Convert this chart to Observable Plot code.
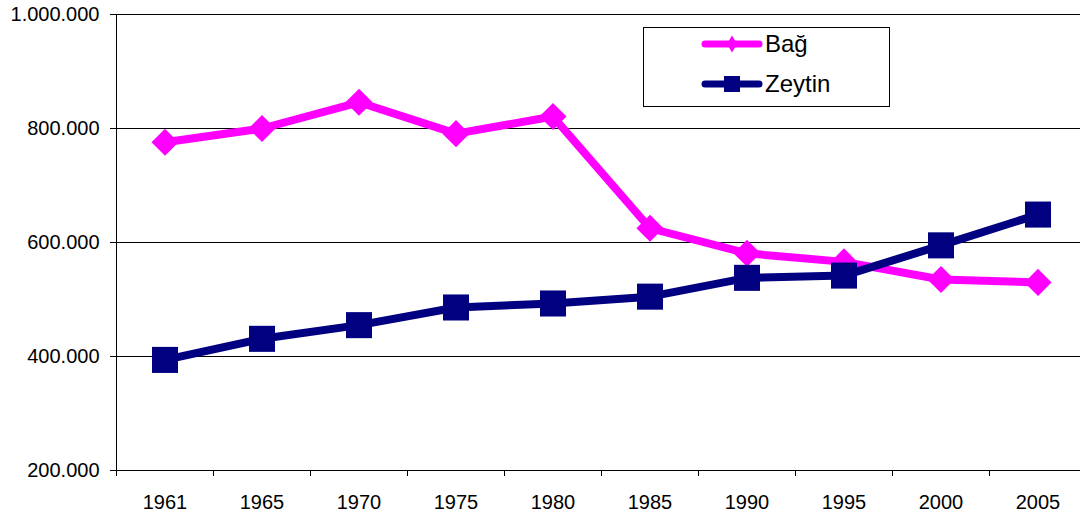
<!DOCTYPE html>
<html>
<head>
<meta charset="utf-8">
<script src="https://cdn.jsdelivr.net/npm/d3@7"></script>
<script src="https://cdn.jsdelivr.net/npm/@observablehq/plot@0.6"></script>
<style>
  html, body { margin: 0; padding: 0; background: #fff; overflow: hidden; }
  #wrap { position: relative; width: 1080px; height: 519px; overflow: hidden; }
  #legend { position: absolute; left: 643px; top: 27px; }
</style>
</head>
<body>
<div id="wrap"></div>
<script>
const years = ["1961","1965","1970","1975","1980","1985","1990","1995","2000","2005"];
const bag = [776000, 800000, 846000, 791000, 821000, 625000, 581000, 566000, 535000, 530000];
const zeytin = [394000, 431000, 455000, 486000, 493000, 505000, 538000, 542000, 595000, 649000];
const yTicks = [200000, 400000, 600000, 800000, 1000000];
const seriesNames = ["Bağ", "Zeytin"];
const colors = ["#FF00FF", "#000080"];

const font = "'Liberation Sans', Arial, sans-serif";
const fmt = d3.formatLocale({decimal: ",", thousands: ".", grouping: [3], currency: ["", ""]}).format(",");

const rows = [];
years.forEach((y, i) => {
  rows.push({pos: i + 0.5, year: y, series: seriesNames[0], value: bag[i]});
  rows.push({pos: i + 0.5, year: y, series: seriesNames[1], value: zeytin[i]});
});
const bagRows = rows.filter(d => d.series === seriesNames[0]);
const zRows = rows.filter(d => d.series === seriesNames[1]);

const chart = Plot.plot({
  width: 1080,
  height: 519,
  marginTop: 14,
  marginBottom: 49,
  marginLeft: 116,
  marginRight: -6,
  style: {fontFamily: font, fontSize: "20px", color: "#000", background: "#fff", overflow: "visible"},
  x: {type: "linear", domain: [0, years.length]},
  y: {domain: [200000, 1000000]},
  marks: [
    Plot.gridY(yTicks, {stroke: "#000", strokeOpacity: 1, strokeWidth: 1}),
    Plot.axisY({ticks: yTicks, tickFormat: fmt, tickSize: 6, tickPadding: 11, label: null, fontSize: 20, stroke: "#000"}),
    Plot.axisX({ticks: d3.range(0, years.length + 1), tickFormat: () => "", tickSize: 6, label: null, stroke: "#000"}),
    Plot.axisX({ticks: years.map((_, i) => i + 0.5), tickFormat: v => years[Math.round(v - 0.5)], tickSize: 0, tickPadding: 24, label: null, fontSize: 20}),
    Plot.ruleY([200000], {stroke: "#000"}),
    Plot.ruleX([0], {stroke: "#000"}),
    Plot.line(bagRows, {x: "pos", y: "value", stroke: colors[0], strokeWidth: 8, strokeLinejoin: "round"}),
    Plot.dot(bagRows, {x: "pos", y: "value", symbol: "diamond2", r: 12.2, fill: colors[0], stroke: "none"}),
    Plot.line(zRows, {x: "pos", y: "value", stroke: colors[1], strokeWidth: 8, strokeLinejoin: "round"}),
    Plot.dot(zRows, {x: "pos", y: "value", symbol: "square", r: 14.7, fill: colors[1], stroke: "none"})
  ]
});

const wrap = document.getElementById("wrap");
wrap.appendChild(chart);

// Legend (boxed, inside the plot area)
const leg = d3.select(wrap).append("svg")
  .attr("id", "legend")
  .attr("width", 248).attr("height", 81)
  .style("font-family", font);
leg.append("rect").attr("x", 0.5).attr("y", 0.5).attr("width", 246).attr("height", 79)
  .attr("fill", "#fff").attr("stroke", "#000").attr("stroke-width", 1);
const items = leg.selectAll("g.item").data(seriesNames).join("g")
  .attr("class", "item")
  .attr("transform", (d, i) => `translate(0, ${17 + i * 40})`);
items.append("line").attr("x1", 62).attr("x2", 116).attr("y1", 0).attr("y2", 0)
  .attr("stroke", (d, i) => colors[i]).attr("stroke-width", 7).attr("stroke-linecap", "round");
items.filter((d, i) => i === 0).append("path")
  .attr("d", "M89,-8.5 L94,0 L89,8.5 L84,0 Z").attr("fill", colors[0]);
items.filter((d, i) => i === 1).append("rect")
  .attr("x", 81).attr("y", -8).attr("width", 16).attr("height", 16).attr("fill", colors[1]);
items.append("text").attr("x", 122).attr("y", 0).attr("dy", "0.35em")
  .attr("font-size", 24).attr("fill", "#000").text(d => d);
</script>
</body>
</html>
